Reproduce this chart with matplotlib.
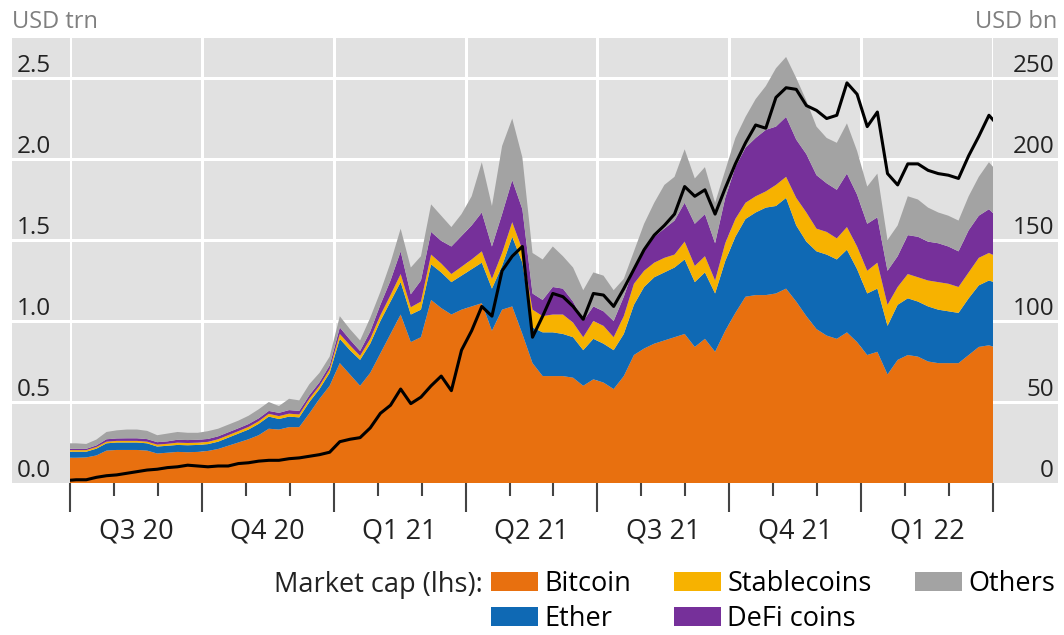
import numpy as np
import matplotlib
matplotlib.use('Agg')
import matplotlib.pyplot as plt
from matplotlib import transforms
from matplotlib.patches import Patch

plt.rcParams['font.family'] = ['Open Sans', 'DejaVu Sans']

# weekly observations, x in weeks since 1 Jul 2020 (first point falls just before)
weeks = np.arange(93) - 0.4

# market cap, USD trn (lhs)
bitcoin = [0.156, 0.156, 0.158, 0.170, 0.200, 0.204, 0.204, 0.204, 0.200, 0.182,
           0.187, 0.192, 0.190, 0.192, 0.198, 0.210, 0.230, 0.250, 0.270, 0.295,
           0.335, 0.330, 0.345, 0.345, 0.430, 0.520, 0.600, 0.740, 0.670, 0.600,
           0.680, 0.800, 0.920, 1.040, 0.870, 0.900, 1.130, 1.080, 1.040, 1.070,
           1.090, 1.110, 0.940, 1.070, 1.090, 0.920, 0.740, 0.660, 0.660, 0.660,
           0.650, 0.600, 0.640, 0.620, 0.580, 0.660, 0.790, 0.830, 0.860, 0.880,
           0.900, 0.920, 0.840, 0.890, 0.810, 0.940, 1.050, 1.150, 1.160, 1.160,
           1.170, 1.200, 1.120, 1.030, 0.950, 0.910, 0.890, 0.930, 0.870, 0.790,
           0.810, 0.670, 0.760, 0.790, 0.780, 0.750, 0.740, 0.740, 0.740, 0.790,
           0.840, 0.850, 0.830]
ether = [0.037, 0.037, 0.035, 0.042, 0.045, 0.046, 0.046, 0.046, 0.045, 0.043,
         0.043, 0.043, 0.043, 0.043, 0.042, 0.045, 0.050, 0.055, 0.060, 0.070,
         0.075, 0.065, 0.065, 0.060, 0.070, 0.060, 0.080, 0.150, 0.150, 0.160,
         0.180, 0.200, 0.200, 0.200, 0.170, 0.170, 0.220, 0.220, 0.200, 0.210,
         0.230, 0.250, 0.260, 0.270, 0.430, 0.440, 0.220, 0.270, 0.270, 0.260,
         0.250, 0.220, 0.250, 0.240, 0.240, 0.260, 0.310, 0.380, 0.410, 0.420,
         0.430, 0.460, 0.400, 0.410, 0.360, 0.430, 0.470, 0.480, 0.510, 0.540,
         0.540, 0.560, 0.470, 0.460, 0.480, 0.500, 0.490, 0.510, 0.450, 0.380,
         0.390, 0.300, 0.340, 0.350, 0.340, 0.340, 0.330, 0.320, 0.310, 0.350,
         0.380, 0.400, 0.400]
stablecoins = [0.010, 0.010, 0.010, 0.010, 0.010, 0.010, 0.010, 0.010, 0.010, 0.012,
               0.012, 0.014, 0.014, 0.014, 0.014, 0.015, 0.015, 0.015, 0.016, 0.016,
               0.017, 0.018, 0.018, 0.018, 0.020, 0.020, 0.022, 0.030, 0.030, 0.025,
               0.030, 0.035, 0.040, 0.050, 0.045, 0.050, 0.060, 0.055, 0.050, 0.055,
               0.060, 0.070, 0.060, 0.080, 0.090, 0.080, 0.110, 0.100, 0.110, 0.120,
               0.090, 0.080, 0.110, 0.110, 0.080, 0.110, 0.130, 0.100, 0.090, 0.090,
               0.080, 0.110, 0.100, 0.100, 0.080, 0.110, 0.110, 0.100, 0.100, 0.100,
               0.130, 0.130, 0.170, 0.180, 0.140, 0.140, 0.130, 0.140, 0.140, 0.140,
               0.160, 0.130, 0.110, 0.150, 0.150, 0.160, 0.170, 0.170, 0.160, 0.160,
               0.170, 0.170, 0.160]
defi_coins = [0.008, 0.008, 0.008, 0.010, 0.015, 0.015, 0.016, 0.016, 0.016, 0.015,
              0.015, 0.018, 0.018, 0.018, 0.018, 0.018, 0.018, 0.018, 0.018, 0.018,
              0.018, 0.020, 0.022, 0.022, 0.022, 0.022, 0.024, 0.040, 0.035, 0.030,
              0.045, 0.065, 0.090, 0.140, 0.080, 0.130, 0.140, 0.140, 0.170, 0.190,
              0.210, 0.240, 0.200, 0.240, 0.260, 0.250, 0.100, 0.100, 0.170, 0.160,
              0.130, 0.100, 0.090, 0.090, 0.100, 0.120, 0.100, 0.140, 0.160, 0.180,
              0.210, 0.240, 0.260, 0.260, 0.230, 0.280, 0.320, 0.340, 0.360, 0.380,
              0.360, 0.370, 0.360, 0.360, 0.330, 0.300, 0.300, 0.330, 0.320, 0.290,
              0.280, 0.210, 0.190, 0.240, 0.250, 0.240, 0.240, 0.230, 0.220, 0.260,
              0.260, 0.270, 0.240]
others = [0.034, 0.034, 0.030, 0.036, 0.045, 0.050, 0.054, 0.054, 0.051, 0.043,
          0.048, 0.048, 0.045, 0.043, 0.048, 0.047, 0.047, 0.047, 0.051, 0.056,
          0.055, 0.042, 0.070, 0.065, 0.068, 0.058, 0.054, 0.070, 0.065, 0.065,
          0.085, 0.080, 0.110, 0.140, 0.165, 0.150, 0.170, 0.155, 0.120, 0.135,
          0.180, 0.310, 0.250, 0.420, 0.380, 0.320, 0.250, 0.250, 0.250, 0.200,
          0.210, 0.190, 0.210, 0.220, 0.190, 0.110, 0.100, 0.150, 0.210, 0.270,
          0.270, 0.330, 0.280, 0.290, 0.250, 0.170, 0.180, 0.190, 0.240, 0.270,
          0.360, 0.370, 0.380, 0.330, 0.300, 0.280, 0.290, 0.310, 0.270, 0.230,
          0.270, 0.190, 0.190, 0.240, 0.230, 0.210, 0.190, 0.190, 0.190, 0.210,
          0.240, 0.290, 0.280]

# black line, USD bn (rhs)
tvl = [1.5, 2, 2, 3.5, 4.5, 5, 6, 7, 8, 8.5,
       9.5, 10, 11, 10.5, 10, 10.5, 10.5, 12, 12.5, 13.5,
       14, 14, 15, 15.5, 16.5, 17.5, 19, 25.5, 27, 28,
       34, 43, 48, 58, 49, 53, 60, 66, 57, 82,
       94, 109, 103, 131, 140, 146, 90, 103, 117, 115,
       109, 101, 117, 116, 109, 120, 132, 144, 153, 159,
       166, 183, 177, 181, 166, 182, 197, 210, 221, 219,
       238, 244, 243, 233, 230, 225, 227, 247, 240, 220,
       229, 191, 184, 197, 197, 193, 191, 190, 188, 202,
       214, 227, 220]

names = ['Bitcoin', 'Ether', 'Stablecoins', 'DeFi coins', 'Others']
colors = ['#e8700f', '#0f69b4', '#f7b200', '#76309a', '#a3a3a3']
quarters = ['Q3 20', 'Q4 20', 'Q1 21', 'Q2 21', 'Q3 21', 'Q4 21', 'Q1 22']
Q = 13  # weeks per quarter

W, H = 1064, 635
YMAX = 2.747


def box(x0, y0, x1, y1):
    return [x0 / W, 1 - y1 / H, (x1 - x0) / W, (y1 - y0) / H]


fig = plt.figure(figsize=(W / 100, H / 100), dpi=100)

# grey panel that runs behind the tick labels too
bg = fig.add_axes(box(12, 38, 1058, 483))
bg.set_facecolor('#e1e1e1')
bg.set_xlim(0, 1)
bg.set_ylim(0, YMAX)
for v in np.arange(0.5, 2.51, 0.5):
    bg.axhline(v, color='white', lw=2.2)
bg.set_xticks([])
bg.set_yticks([])
for s in bg.spines.values():
    s.set_visible(False)

ax = fig.add_axes(box(70, 38, 993, 483))
ax.set_facecolor('none')
for q in range(len(quarters) + 1):
    ax.axvline(q * Q, color='white', lw=2.2, zorder=0)
ax.stackplot(weeks, bitcoin, ether, stablecoins, defi_coins, others,
             colors=colors, linewidth=0)
ax.set_xlim(0, len(quarters) * Q)
ax.set_ylim(0, YMAX)
for s in ax.spines.values():
    s.set_visible(False)

ax.set_xticks(np.arange(0, len(quarters) * Q + 1, Q))
ax.set_xticks([q * Q + m * Q / 3 for q in range(len(quarters)) for m in (1, 2)], minor=True)
ax.tick_params(axis='x', which='major', length=21, width=1.5, color='#444444', labelbottom=False)
ax.tick_params(axis='x', which='minor', length=9.5, width=1.5, color='#444444')

up = transforms.ScaledTranslation(0, 0.15, fig.dpi_scale_trans)
lt = np.arange(0, 2.51, 0.5)
ax.set_yticks(lt)
ax.set_yticklabels([f'{v:.1f}' for v in lt])
ax.tick_params(axis='y', length=0, pad=14, labelsize=17.5, labelcolor='#222222')
for lbl in ax.get_yticklabels():
    lbl.set_transform(lbl.get_transform() + up)

xt = transforms.blended_transform_factory(ax.transData, ax.transAxes)
for i, q in enumerate(quarters):
    ax.text(i * Q + Q / 2, -0.11, q, transform=xt, ha='center', va='center',
            fontsize=19.5, color='#222222')

ax2 = ax.twinx()
ax2.plot(weeks, tvl, color='black', lw=2.2)
ax2.set_ylim(0, YMAX * 100)
rt = np.arange(0, 251, 50)
ax2.set_yticks(rt)
ax2.set_yticklabels([str(v) for v in rt], ha='right')
ax2.tick_params(axis='y', length=0, pad=44, labelsize=17.5, labelcolor='#222222')
for lbl in ax2.get_yticklabels():
    lbl.set_transform(lbl.get_transform() + up)
for s in ax2.spines.values():
    s.set_visible(False)

fig.text(12 / W, 1 - 22 / H, 'USD trn', ha='left', va='center', fontsize=17, color='#7f7f7f')
fig.text(1057 / W, 1 - 22 / H, 'USD bn', ha='right', va='center', fontsize=17, color='#7f7f7f')

handles = [Patch(facecolor=c, edgecolor='none') for c in colors]
fig.legend(handles, names, ncol=3, loc='upper left', bbox_to_anchor=(491 / W, 1 - 570 / H),
           frameon=False, fontsize=19.5, handlelength=1.74, handleheight=0.67,
           handletextpad=0.22, columnspacing=1.6, labelspacing=0.26,
           borderpad=0, borderaxespad=0)
fig.text(483 / W, 1 - 585 / H, 'Market cap (lhs):', ha='right', va='center',
         fontsize=19.5, color='#222222')

fig.savefig('out.png', dpi=100)
